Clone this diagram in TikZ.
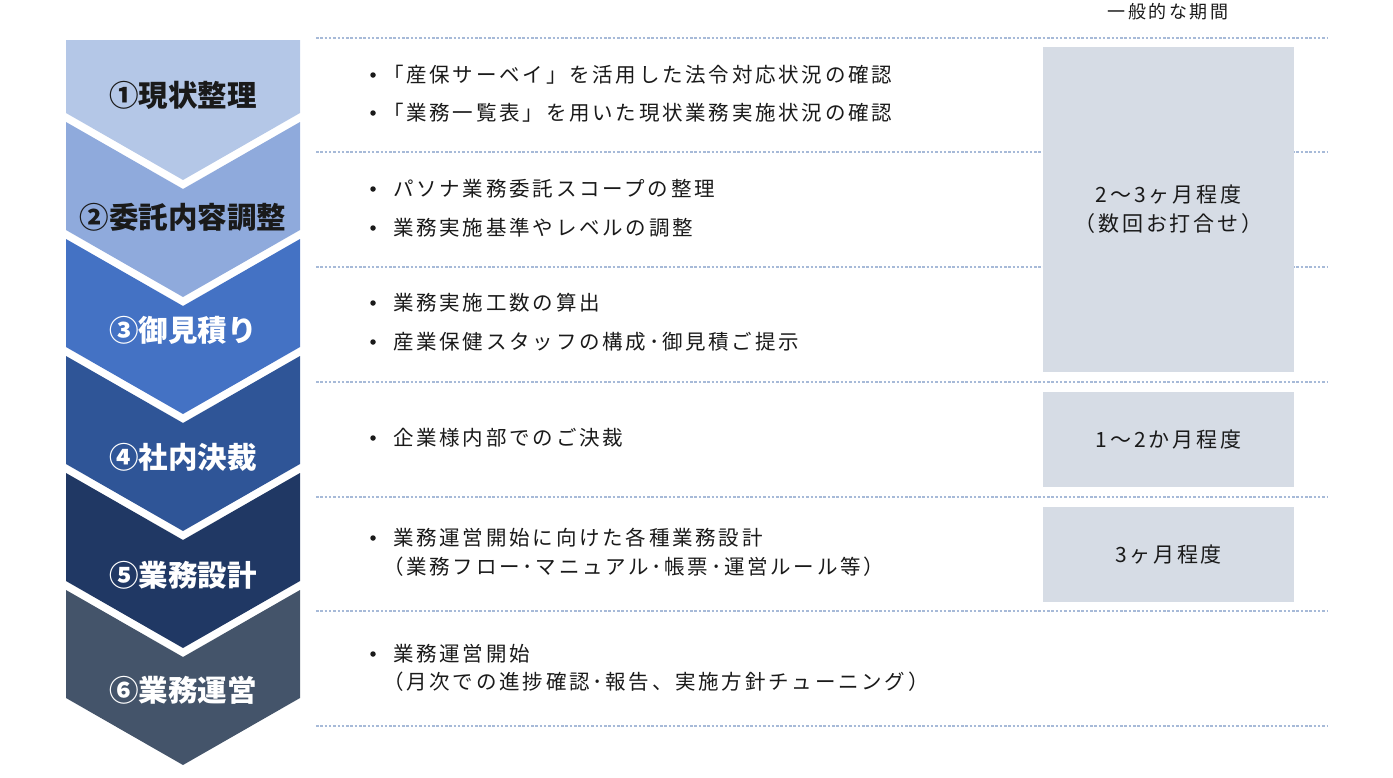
\documentclass[tikz,border=0pt]{standalone}
\usepackage{fontspec}
\newfontfamily\jptext[LetterSpace=13.5]{Noto Sans CJK JP}
\newfontfamily\jplabel{Noto Sans CJK JP}
\usepackage{xcolor}
\definecolor{stepA}{HTML}{B4C7E7}
\definecolor{stepB}{HTML}{8FAADC}
\definecolor{stepC}{HTML}{4472C4}
\definecolor{stepD}{HTML}{2F5597}
\definecolor{stepE}{HTML}{203864}
\definecolor{stepF}{HTML}{44546A}
\definecolor{boxgray}{HTML}{D6DCE5}
\definecolor{sepblue}{HTML}{A7BAD8}
\definecolor{inkgray}{HTML}{1A1A1A}
\tikzset{
  steplabel/.style={font=\jplabel\bfseries\fontsize{29.5}{32}\selectfont, inner sep=0pt},
  itemtext/.style={anchor=west, inner sep=0pt, text=inkgray,
    font=\jptext\fontsize{20.5}{24}\selectfont},
  bulletdot/.style={circle, fill=inkgray, inner sep=0pt, minimum size=5.5pt},
  sepline/.style={sepblue, line width=1.3pt, dash pattern=on 2.5pt off 1.8pt},
  periodbox/.style={fill=boxgray, draw=none, minimum width=251pt, align=center,
    text=inkgray, font=\jptext\fontsize{21}{29}\selectfont},
}
\begin{document}
\begin{tikzpicture}[x=1pt, y=-1pt]
\useasboundingbox (0,0) rectangle (1393,777);

% chevrons of the steps
\fill[stepA] (66,40) -- (300,40) -- (300,113) -- (183,180) -- (66,113) -- cycle;
\foreach \k/\col in {1/stepB, 2/stepC, 3/stepD, 4/stepE, 5/stepF}
  \fill[\col] (66,5+117*\k) -- (183,72+117*\k) -- (300,5+117*\k)
    -- (300,113+117*\k) -- (183,180+117*\k) -- (66,113+117*\k) -- cycle;

\node[steplabel, text=inkgray] (s1) at (183,95) {①現状整理};
\node[steplabel, text=inkgray] (s2) at (183,217) {②委託内容調整};
\node[steplabel, text=white] (s3) at (183,330) {③御見積り};
\node[steplabel, text=white] (s4) at (183,457) {④社内決裁};
\node[steplabel, text=white] (s5) at (183,575) {⑤業務設計};
\node[steplabel, text=white] (s6) at (183,690) {⑥業務運営};

% rows
\foreach \y in {38, 152, 267, 382, 497, 611, 726}
  \draw[sepline] (316,\y) -- (1328,\y);

\node[font=\jptext\fontsize{18}{20}\selectfont, text=inkgray] (head) at (1168,12) {一般的な期間};

\node[periodbox, minimum height=325pt] (p1) at (1168.5,209.5) {2〜3ヶ月程度\\（数回お打合せ）};
\node[periodbox, minimum height=95pt] (p2) at (1168.5,439.5) {1〜2か月程度};
\node[periodbox, minimum height=95pt] (p3) at (1168.5,554.5) {3ヶ月程度};

\foreach \y in {75, 113, 189, 228, 303, 342, 438, 538, 654}
  \node[bulletdot] at (373,\y) {};

\node[itemtext] (t1a) at (383,75) {「産保サーベイ」を活用した法令対応状況の確認};
\node[itemtext] (t1b) at (383,113) {「業務一覧表」を用いた現状業務実施状況の確認};
\node[itemtext] (t2a) at (393,189) {パソナ業務委託スコープの整理};
\node[itemtext] (t2b) at (393,228) {業務実施基準やレベルの調整};
\node[itemtext] (t3a) at (393,303) {業務実施工数の算出};
\node[itemtext] (t3b) at (393,342) {産業保健スタッフの構成･御見積ご提示};
\node[itemtext] (t4a) at (393,438) {企業様内部でのご決裁};
\node[itemtext] (t5a) at (393,538) {業務運営開始に向けた各種業務設計};
\node[itemtext] (t5b) at (383,567) {（業務フロー･マニュアル･帳票･運営ルール等）};
\node[itemtext] (t6a) at (393,654) {業務運営開始};
\node[itemtext] (t6b) at (383,682) {（月次での進捗確認･報告、実施方針チューニング）};

\end{tikzpicture}
\end{document}
